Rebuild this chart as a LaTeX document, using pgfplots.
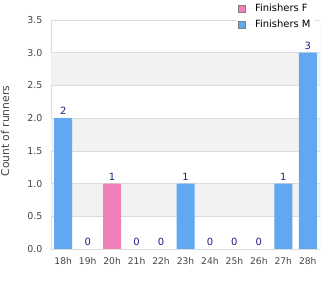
\documentclass[border=0pt]{standalone}
\usepackage{pgfplots}
\pgfplotsset{compat=1.18}
\usepackage{fontspec}
\setmainfont{DejaVu Sans}
\definecolor{mblue}{RGB}{96,168,240}
\definecolor{fpink}{RGB}{240,128,184}
\definecolor{navy}{RGB}{30,30,130}
\definecolor{tickgray}{RGB}{68,68,68}
\definecolor{band}{RGB}{242,242,242}
\definecolor{gridc}{RGB}{220,220,220}
\pgfplotsset{common/.style={
  at={(0,0)}, anchor=south west,
  scale only axis, width=269bp, height=229bp,
  xmin=-0.5, xmax=10.5, ymin=0, ymax=3.5,
  /pgf/number format/assume math mode=true,
}}
\begin{document}
\begin{tikzpicture}
\begin{axis}[common,
  xtick={0,...,10},
  xticklabels={18h,19h,20h,21h,22h,23h,24h,25h,26h,27h,28h},
  ytick={0,0.5,...,3.5},
  yticklabel style={/pgf/number format/.cd, fixed, fixed zerofill, precision=1,
    /tikz/.cd, font=\fontsize{9.5}{11}\selectfont, xshift=-5bp},
  xticklabel style={font=\fontsize{9.2}{11}\selectfont, yshift=-5bp},
  ticklabel style={text=tickgray},
  major tick length=0pt,
  axis line style={gridc, line width=0.8pt},
  axis x line*=bottom, axis y line*=left,
  ylabel={Count of runners},
  ylabel style={font=\fontsize{10.8}{12}\selectfont, text=tickgray,
    at={(axis description cs:-0.171,0.515)}, anchor=center},
]
\fill[band] (axis cs:-0.5,0.5) rectangle (axis cs:10.5,1.0);
\fill[band] (axis cs:-0.5,1.5) rectangle (axis cs:10.5,2.0);
\fill[band] (axis cs:-0.5,2.5) rectangle (axis cs:10.5,3.0);
\foreach \v in {0.5,1.0,1.5,2.0,2.5,3.0,3.5}{
  \edef\temp{\noexpand\draw[gridc, line width=0.6pt] (axis cs:-0.5,\v) -- (axis cs:10.5,\v);}
  \temp
}
\draw[gridc, line width=0.8pt] (rel axis cs:1,0) -- (rel axis cs:1,1);
\end{axis}
\begin{axis}[common, hide axis,
  ybar, bar width=18bp, bar shift=0pt,
  legend style={at={(0.69,1.085)}, anchor=north west, draw=none, fill=white,
    font=\fontsize{10}{12}\selectfont, text=black, row sep=3bp, inner sep=1bp},
  legend cell align=left,
  legend image code/.code={\draw[#1,draw=gray] (0bp,-3.5bp) rectangle (7bp,3.5bp); \path (0bp,0bp) -- (15bp,0bp);},
  nodes near coords style={font=\fontsize{10}{12}\selectfont, text=navy},
]
\addplot[fill=fpink, draw=none] coordinates {
(0,0) (1,0) (2,1) (3,0) (4,0) (5,0) (6,0) (7,0) (8,0) (9,0) (10,0)};
\addlegendentry{Finishers F}
\addplot[fill=mblue, draw=none] coordinates {
(0,2) (1,0) (2,0) (3,0) (4,0) (5,1) (6,0) (7,0) (8,0) (9,1) (10,3)};
\addlegendentry{Finishers M}
\addplot[draw=none, fill=none, forget plot, nodes near coords] coordinates {
(0,2) (1,0) (2,1) (3,0) (4,0) (5,1) (6,0) (7,0) (8,0) (9,1) (10,3)};
\end{axis}
\pgfresetboundingbox
\useasboundingbox (-51bp,-51bp) rectangle (279bp,249bp);
\end{tikzpicture}
\end{document}
